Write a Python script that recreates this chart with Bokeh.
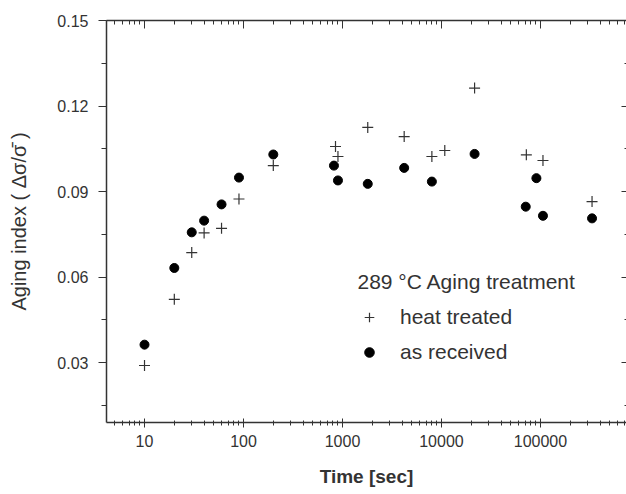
from bokeh.plotting import figure
from bokeh.models import (Range1d, LogAxis, LinearAxis, LogTicker, SingleIntervalTicker,
                          Legend, LegendItem, ColumnDataSource, CustomJSTickFormatter,
                          NumeralTickFormatter, Label)
from bokeh.embed import file_html
from bokeh.resources import INLINE

# Data
heat_time = [10, 20, 30, 40, 60, 90, 200, 850, 900, 1800, 4200, 8000, 10800, 21600, 72000, 106000, 332000]
heat_idx = [0.029, 0.0522, 0.0686, 0.0755, 0.0771, 0.0874, 0.0991, 0.1058, 0.1023, 0.1125,
            0.1093, 0.1023, 0.1044, 0.1263, 0.1029, 0.1009, 0.0865]

recv_time = [10, 20, 30, 40, 60, 90, 200, 820, 900, 1800, 4200, 8000, 21600, 71000, 91000, 106000, 332000]
recv_idx = [0.0363, 0.0632, 0.0757, 0.0798, 0.0855, 0.0949, 0.103, 0.0991, 0.0939, 0.0927,
            0.0983, 0.0935, 0.1032, 0.0847, 0.0947, 0.0815, 0.0806]

legend_title = "289 °C Aging treatment"
label_heat = "heat treated"
label_recv = "as received"
x_title = "Time [sec]"
y_title = "Aging index ( Δσ/σ̄ )"

FONT = "Liberation Sans"
AX = "#333333"

p = figure(width=626, height=494, x_axis_type="log",
           x_range=Range1d(4.13, 7.4e5), y_range=Range1d(0.009, 0.15),
           output_backend="svg", toolbar_location=None,
           min_border_left=106, min_border_top=20, min_border_right=0, min_border_bottom=72)
p.outline_line_color = None
p.xgrid.visible = False
p.ygrid.visible = False
p.background_fill_color = "white"
p.border_fill_color = "white"

# bottom axis
xa = p.xaxis[0]
xa.ticker = LogTicker(num_minor_ticks=10)
xa.formatter = NumeralTickFormatter(format="0")
xa.axis_label = x_title
xa.axis_label_text_font = FONT
xa.axis_label_text_font_size = "19px"
xa.axis_label_text_font_style = "bold"
xa.axis_label_text_color = AX
xa.axis_label_standoff = 16
xa.major_label_text_font = FONT
xa.major_label_text_font_size = "16px"
xa.major_label_text_color = AX
xa.major_label_standoff = 7
xa.major_tick_in = 4
xa.major_tick_out = 5
xa.minor_tick_in = 2
xa.minor_tick_out = 3
xa.axis_line_width = 1.5
xa.axis_line_color = AX
xa.major_tick_line_color = AX
xa.minor_tick_line_color = AX

# left axis
ya = p.yaxis[0]
ya.ticker = SingleIntervalTicker(interval=0.03, num_minor_ticks=2)
ya.axis_label = y_title
ya.axis_label_text_font = FONT
ya.axis_label_text_font_size = "20px"
ya.axis_label_text_font_style = "normal"
ya.axis_label_text_color = AX
ya.axis_label_standoff = 24
ya.major_label_text_font = FONT
ya.major_label_text_font_size = "16px"
ya.major_label_text_color = AX
ya.major_label_standoff = 10
ya.major_tick_in = 0
ya.major_tick_out = 8
ya.minor_tick_in = 0
ya.minor_tick_out = 5
ya.axis_line_width = 1.5
ya.axis_line_color = AX
ya.major_tick_line_color = AX
ya.minor_tick_line_color = AX

blank = CustomJSTickFormatter(code="return ''")

# top axis (ticks only)
top = LogAxis(ticker=LogTicker(num_minor_ticks=10), formatter=blank)
top.major_label_text_font_size = "1px"
top.major_label_standoff = 0
top.major_tick_in = 8
top.major_tick_out = 0
top.minor_tick_in = 4
top.minor_tick_out = 0
top.axis_line_width = 1.5
top.axis_line_color = AX
top.major_tick_line_color = AX
top.minor_tick_line_color = AX
p.add_layout(top, "above")

# right axis (ticks only, spine outside the visible area)
right = LinearAxis(ticker=SingleIntervalTicker(interval=0.03, num_minor_ticks=2), formatter=blank)
right.major_label_text_font_size = "1px"
right.major_label_standoff = 0
right.major_tick_in = 5
right.major_tick_out = 0
right.minor_tick_in = 2
right.minor_tick_out = 0
right.axis_line_color = None
right.major_tick_line_color = AX
right.minor_tick_line_color = AX
p.add_layout(right, "right")

src_heat = ColumnDataSource(dict(t=heat_time, v=heat_idx))
src_recv = ColumnDataSource(dict(t=recv_time, v=recv_idx))

r_heat = p.scatter("t", "v", source=src_heat, marker="cross", size=11,
                   line_color="#333333", line_width=1.2)
r_recv = p.scatter("t", "v", source=src_recv, marker="circle", size=9,
                   fill_color="black", line_color="black")

legend = Legend(items=[LegendItem(label=label_heat, renderers=[r_heat]),
                       LegendItem(label=label_recv, renderers=[r_recv])],
                location=(251, 55))
legend.label_text_font = FONT
legend.label_text_font_size = "21px"
legend.label_text_color = AX
legend.border_line_color = None
legend.background_fill_alpha = 0
legend.padding = 5
legend.margin = 0
legend.spacing = 5
legend.label_height = 30
legend.glyph_height = 30
legend.glyph_width = 24
legend.label_standoff = 19
p.add_layout(legend, "center")

title_lbl = Label(x=251, y=141, x_units="screen", y_units="screen", text=legend_title,
                  text_font=FONT, text_font_size="21px", text_color=AX,
                  text_baseline="middle", text_align="left")
p.add_layout(title_lbl)

open("out.html", "w").write(file_html(p, INLINE))
